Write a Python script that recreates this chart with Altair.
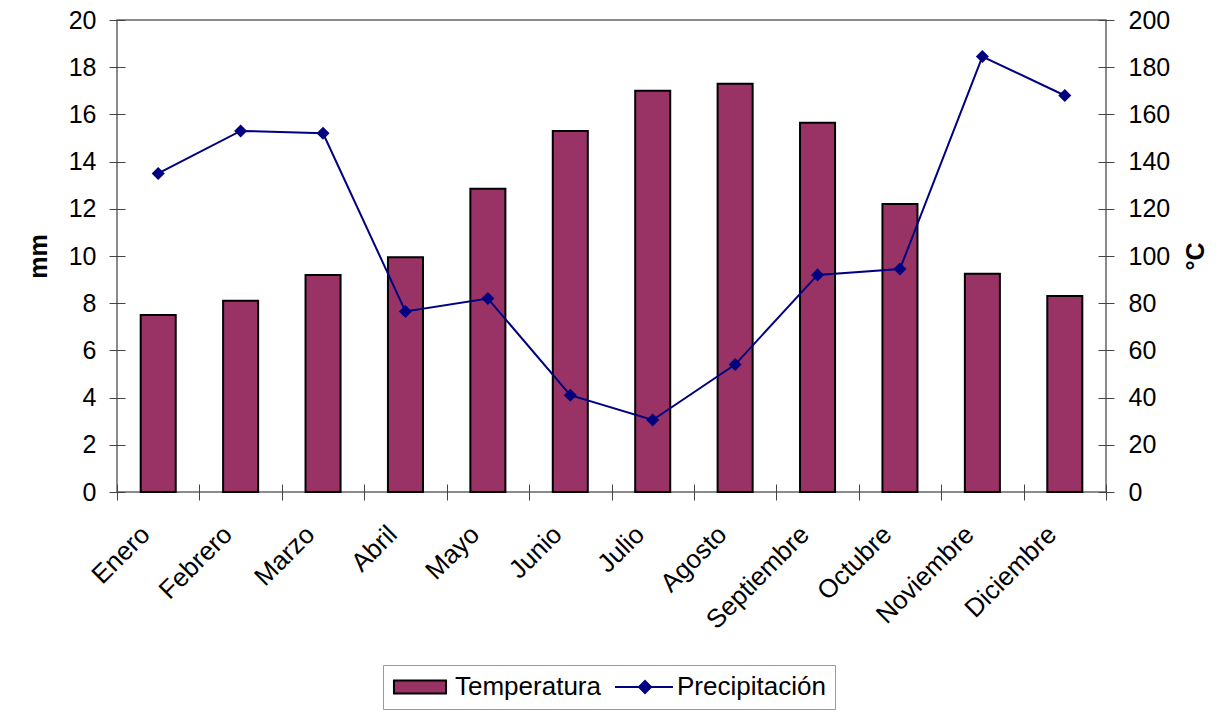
import altair as alt
import pandas as pd

meses = ["Enero", "Febrero", "Marzo", "Abril", "Mayo", "Junio", "Julio",
         "Agosto", "Septiembre", "Octubre", "Noviembre", "Diciembre"]
temperatura = [7.5, 8.1, 9.2, 9.95, 12.85, 15.3, 17.0, 17.3, 15.65, 12.2, 9.25, 8.3]
precipitacion = [135, 153, 152, 76.5, 82, 41, 30.5, 54, 92, 94.5, 184.5, 168]
series = ["Temperatura", "Precipitación"]
ticks_mm = list(range(0, 21, 2))
ticks_c = list(range(0, 201, 20))

df = pd.DataFrame({
    "mes": meses,
    "temperatura": temperatura,
    "precipitacion": precipitacion,
    "serie": ["Temperatura"] * len(meses),
})
legend_df = pd.DataFrame({"serie": series})

FONT = "Liberation Sans"
BAR = "#993366"
LINE = "#000080"
TICK = "#444444"

fill_scale = alt.Scale(domain=series, range=[BAR, LINE])
stroke_scale = alt.Scale(domain=series, range=["black", LINE])
shape_scale = alt.Scale(domain=series, range=[
    "M-0.92,-0.54H3.42V0.54H-0.92Z",
    "M-1,0H3.83M1.5,-0.5L2,0L1.5,0.5L1,0Z",
])

leg = alt.Legend(
    title=None, orient="none", legendX=266, legendY=645, direction="horizontal",
    strokeColor="#999999", fillColor="white", padding=9,
    labelFont=FONT, labelFontSize=26, labelColor="black",
    symbolSize=576, labelOffset=37, columnPadding=10,
    symbolStrokeWidth=2, symbolOpacity=1,
)

x_enc = alt.X(
    "mes:N", sort=meses, title=None,
    scale=alt.Scale(paddingInner=0, paddingOuter=0),
    axis=alt.Axis(labelAngle=-45, labelAlign="right", labelBaseline="middle",
                  labelFont=FONT, labelFontSize=26, labelColor="black",
                  labelPadding=30, labelOffset=-13, tickBand="extent",
                  tickSize=16, offset=-8, domain=False, tickColor=TICK,
                  tickWidth=1, grid=False),
)

bars = alt.Chart(df).mark_bar(
    width=alt.RelativeBandSize(0.425), stroke="black", strokeWidth=2
).encode(
    x=x_enc,
    y=alt.Y("temperatura:Q", scale=alt.Scale(domain=[0, 20]),
            axis=alt.Axis(orient="left", values=ticks_mm, title="mm",
                          titleFont=FONT, titleFontSize=25, titleFontWeight="bold",
                          titleColor="black", titlePadding=17,
                          labelFont=FONT, labelFontSize=25, labelColor="black",
                          labelPadding=13, tickSize=16, offset=-8, domain=False,
                          tickColor=TICK, tickWidth=1, grid=False)),
    fill=alt.Fill("serie:N", scale=fill_scale, legend=leg),
)

line = alt.Chart(df).mark_line(
    color=LINE, strokeWidth=2,
    point=alt.OverlayMarkDef(shape="diamond", size=170, filled=True, color=LINE),
).encode(
    x=alt.X("mes:N", sort=meses),
    y=alt.Y("precipitacion:Q", scale=alt.Scale(domain=[0, 200]),
            axis=alt.Axis(orient="right", values=ticks_c, title="°C",
                          titleAngle=-90, titleFont=FONT, titleFontSize=25,
                          titleFontWeight="bold", titleColor="black", titlePadding=39,
                          labelFont=FONT, labelFontSize=25, labelColor="black",
                          labelPadding=14, tickSize=16, offset=-8, domain=False,
                          tickColor=TICK, tickWidth=1, grid=False)),
)

legend_layer = alt.Chart(legend_df).mark_point(opacity=0, filled=True).encode(
    fill=alt.Fill("serie:N", scale=fill_scale, legend=leg),
    stroke=alt.Stroke("serie:N", scale=stroke_scale, legend=leg),
    shape=alt.Shape("serie:N", scale=shape_scale, legend=leg),
)

chart = alt.layer(bars, line, legend_layer).resolve_scale(
    y="independent"
).properties(
    width=989, height=472,
    autosize=alt.AutoSizeParams(type="none"),
    padding={"left": 117, "top": 20, "right": 120, "bottom": 218},
).configure(
    font=FONT, background="white"
).configure_view(
    stroke="#666666", strokeWidth=1.5
)

chart.save("out.html", embed_options={"renderer": "svg", "actions": False})
